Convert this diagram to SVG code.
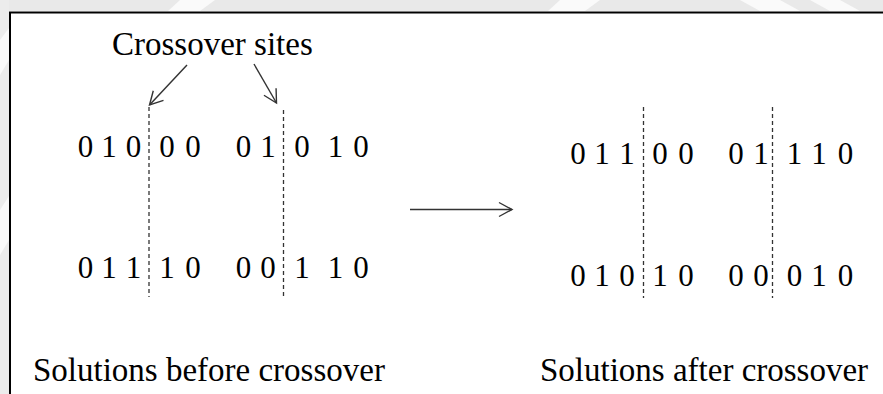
<svg xmlns="http://www.w3.org/2000/svg" width="883" height="394" viewBox="0 0 883 394">
  <style>
    .t { font-family: "Liberation Serif", "Times New Roman", serif; fill: #000; }
    .lbl { font-size: 33px; }
    .bits { font-size: 31px; text-anchor: middle; }
    .cut { stroke: #333; stroke-width: 1.3; stroke-dasharray: 4 3; fill: none; }
    .arr { stroke: #333; stroke-width: 1.4; fill: none; marker-end: url(#open); }
    .frame { stroke: #000; stroke-width: 2; fill: none; }
  </style>
  <defs>
    <marker id="open" markerUnits="userSpaceOnUse" viewBox="-16 -10 18 20" markerWidth="18" markerHeight="20" refX="0" refY="0" orient="auto" overflow="visible">
      <path d="M-13,-7 L0,0 L-13,7" fill="none" stroke="#333" stroke-width="1.4"/>
    </marker>
  </defs>

  <!-- page background -->
  <rect width="883" height="394" fill="#fff"/>
  <!-- faint grey margin outside the frame -->
  <g id="margin">
    <rect x="0" y="0" width="883" height="11" fill="#e9e9e9"/>
    <rect x="0" y="0" width="9" height="394" fill="#ececec"/>
    <g fill="#fafafa">
      <polygon points="180,0 215,0 200,11 168,11"/>
      <polygon points="560,0 600,0 585,11 548,11"/>
      <polygon points="740,0 780,0 800,11 760,11"/>
      <polygon points="810,0 840,0 860,11 830,11"/>
      <polygon points="0,40 9,28 9,60 0,75"/>
      <polygon points="0,210 9,196 9,240 0,255"/>
    </g>
  </g>

  <!-- frame around the figure -->
  <g id="frame">
    <path class="frame" d="M10,394 V12.5 H883"/>
  </g>

  <g id="label-sites">
    <text class="t lbl" x="112" y="55">Crossover sites</text>
  </g>

  <!-- parent strings -->
  <g id="parent-1">
    <text class="t bits" y="157" x="85.5 109 133.5 167 193 243.5 268 302 335.5 361">0100001010</text>
  </g>
  <g id="parent-2">
    <text class="t bits" y="278" x="85.5 109 133.5 167 193 243.5 268 302 335.5 361">0111000110</text>
  </g>

  <!-- offspring strings -->
  <g id="child-1">
    <text class="t bits" y="164" x="578 602 627 660 686 736 761 794.5 819 845.5">0110001110</text>
  </g>
  <g id="child-2">
    <text class="t bits" y="286" x="578 602 627 660 686 736 761 794.5 819 845.5">0101000010</text>
  </g>

  <g id="caption-before">
    <text class="t lbl" x="33" y="381">Solutions before crossover</text>
  </g>
  <g id="caption-after">
    <text class="t lbl" x="540" y="381">Solutions after crossover</text>
  </g>

  <g id="connectors">
    <!-- crossover cut points -->
    <line class="cut" x1="149" y1="107" x2="149" y2="297"/>
    <line class="cut" x1="283.5" y1="110" x2="283.5" y2="299"/>
    <line class="cut" x1="643.5" y1="107" x2="643.5" y2="298"/>
    <line class="cut" x1="772.5" y1="107" x2="772.5" y2="298"/>
    <!-- pointers from the label to the cut points -->
    <line class="arr" x1="187" y1="65" x2="149.5" y2="105"/>
    <line class="arr" x1="254" y1="64" x2="276.5" y2="103"/>
    <!-- before -> after -->
    <line class="arr" x1="410" y1="209.5" x2="512" y2="209.5"/>
  </g>
</svg>
